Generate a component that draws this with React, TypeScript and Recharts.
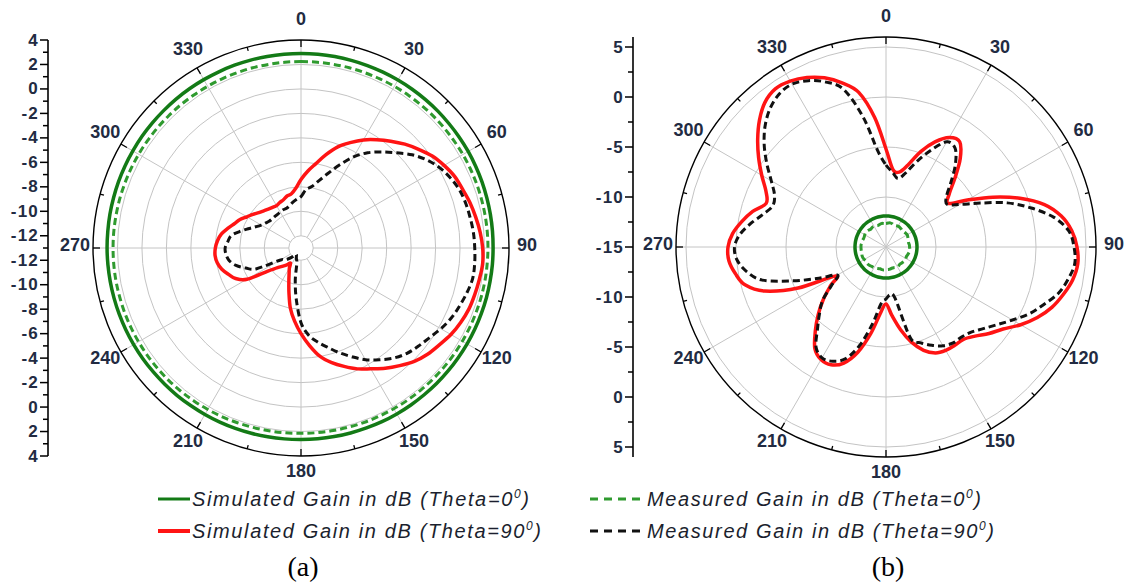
import React from "react";
import {
  RadarChart,
  Radar,
  PolarGrid,
  PolarAngleAxis,
  PolarRadiusAxis,
  ComposedChart,
  XAxis,
  YAxis,
} from "recharts";

// azimuth categories, degrees clockwise from top
const angleCategories = [
  0, 5, 10, 15, 20, 25, 30, 35, 40, 45, 50, 55, 60, 65, 70, 75, 80, 85,
  90, 95, 100, 105, 110, 115, 120, 125, 130, 135, 140, 145, 150, 155, 160, 165, 170, 175,
  180, 185, 190, 195, 200, 205, 210, 215, 220, 225, 230, 235, 240, 245, 250, 255, 260, 265,
  270, 275, 280, 285, 290, 295, 300, 305, 310, 315, 320, 325, 330, 335, 340, 345, 350, 355,
];

// ---- panel (a) gains in dB ----
const simTheta0A = [
  2.9, 2.9, 2.89, 2.88, 2.87, 2.86, 2.85, 2.84, 2.83, 2.82, 2.8, 2.79, 2.78, 2.76, 2.75, 2.73, 2.72, 2.71,
  2.7, 2.7, 2.69, 2.69, 2.68, 2.68, 2.68, 2.67, 2.67, 2.67, 2.66, 2.66, 2.66, 2.66, 2.65, 2.65, 2.65, 2.65,
  2.65, 2.66, 2.67, 2.68, 2.69, 2.7, 2.71, 2.72, 2.74, 2.75, 2.76, 2.78, 2.79, 2.8, 2.81, 2.82, 2.83, 2.84,
  2.85, 2.85, 2.86, 2.86, 2.87, 2.87, 2.87, 2.88, 2.88, 2.88, 2.89, 2.89, 2.89, 2.89, 2.9, 2.9, 2.9, 2.9,
];
const measTheta0A = [
  2.24, 2.24, 2.24, 2.25, 2.25, 2.25, 2.26, 2.26, 2.26, 2.27, 2.27, 2.27, 2.28, 2.28, 2.28, 2.28, 2.28, 2.28,
  2.28, 2.27, 2.27, 2.26, 2.25, 2.24, 2.23, 2.22, 2.21, 2.2, 2.19, 2.18, 2.17, 2.16, 2.16, 2.15, 2.15, 2.15,
  2.15, 2.16, 2.17, 2.18, 2.2, 2.22, 2.24, 2.26, 2.28, 2.3, 2.31, 2.32, 2.33, 2.34, 2.35, 2.35, 2.36, 2.36,
  2.36, 2.36, 2.35, 2.35, 2.34, 2.33, 2.32, 2.31, 2.3, 2.29, 2.28, 2.27, 2.26, 2.26, 2.25, 2.25, 2.24, 2.24,
];
const simTheta90A = [
  -7.4, -6.7, -6.0, -5.1, -4.2, -3.5, -2.8, -2.2, -1.6, -1.0, -0.45, 0.1, 0.5, 0.85, 1.05, 1.3, 1.5, 1.7,
  1.85, 1.9, 1.8, 1.7, 1.6, 1.4, 1.15, 0.8, 0.5, 0.1, -0.45, -1.0, -1.6, -2.1, -2.7, -3.3, -4.0, -5.0,
  -6.0, -7.0, -8.0, -9.2, -10.1, -10.7, -11.1, -11.5, -11.2, -10.9, -10.5, -9.7, -7.9, -7.1, -6.7, -6.3, -6.05, -5.95,
  -6.0, -6.15, -6.4, -6.8, -7.2, -7.5, -7.9, -8.2, -8.5, -8.7, -8.85, -8.95, -9.0, -8.9, -8.8, -8.6, -8.5, -8.1,
];
const measTheta90A = [
  -8.8, -8.2, -7.9, -7.3, -6.5, -5.5, -4.4, -3.5, -2.75, -2.0, -1.15, -0.45, 0.1, 0.5, 0.8, 0.95, 1.05, 1.15,
  1.2, 1.25, 1.25, 1.05, 0.8, 0.55, 0.2, -0.2, -0.5, -0.8, -1.25, -1.85, -2.45, -3.2, -3.9, -4.6, -5.2, -5.85,
  -6.9, -8.7, -10.3, -11.7, -11.95, -12.1, -12.25, -12.35, -12.25, -11.95, -11.6, -11.3, -11.0, -9.0, -8.2, -7.5, -7.05, -6.85,
  -6.8, -7.0, -7.2, -7.8, -8.4, -8.9, -9.25, -9.45, -9.6, -9.65, -9.65, -9.65, -9.6, -9.55, -9.55, -9.4, -9.2, -9.0,
];

// ---- panel (b) gains in dB ----
const simTheta0B = [
  -11.9, -11.9, -11.9, -11.9, -11.9, -11.9, -11.9, -11.9, -11.9, -11.9, -11.9, -11.9, -11.9, -11.9, -11.9, -11.9, -11.9, -11.9,
  -11.9, -11.9, -11.9, -11.9, -11.9, -11.9, -11.9, -11.9, -11.9, -11.9, -11.9, -11.9, -11.9, -11.9, -11.9, -11.9, -11.9, -11.9,
  -11.9, -11.9, -11.9, -11.9, -11.9, -11.9, -11.9, -11.9, -11.9, -11.9, -11.9, -11.9, -11.9, -11.9, -11.9, -11.9, -11.9, -11.9,
  -11.9, -11.9, -11.9, -11.9, -11.9, -11.9, -11.9, -11.9, -11.9, -11.9, -11.9, -11.9, -11.9, -11.9, -11.9, -11.9, -11.9, -11.9,
];
const measTheta0B = [
  -12.65, -12.6, -12.55, -12.6, -12.7, -12.65, -12.6, -12.6, -12.65, -12.7, -12.65, -12.6, -12.55, -12.6, -12.65, -12.7, -12.7, -12.65,
  -12.65, -12.6, -12.6, -12.65, -12.7, -12.75, -12.7, -12.65, -12.7, -12.75, -12.8, -12.75, -12.7, -12.75, -12.8, -12.8, -12.75, -12.75,
  -12.75, -12.7, -12.7, -12.75, -12.7, -12.65, -12.6, -12.6, -12.55, -12.5, -12.5, -12.55, -12.5, -12.45, -12.45, -12.5, -12.5, -12.5,
  -12.5, -12.5, -12.55, -12.55, -12.6, -12.6, -12.55, -12.5, -12.55, -12.6, -12.65, -12.6, -12.6, -12.65, -12.7, -12.65, -12.6, -12.65,
];
const simTheta90B = [
  -5.2, -7.2, -7.4, -6.5, -4.85, -3.4, -2.35, -2.15, -3.45, -5.25, -6.75, -7.4, -5.6, -3.2, -0.75, 1.4, 2.8, 3.65,
  4.1, 4.25, 3.95, 3.35, 2.65, 1.7, 0.55, -0.7, -1.55, -2.4, -2.95, -3.0, -3.05, -3.3, -4.0, -5.15, -6.6, -8.1,
  -9.3, -8.3, -6.2, -4.1, -2.65, -2.0, -2.0, -2.6, -4.0, -5.4, -6.8, -8.2, -9.2, -5.3, -2.1, -0.4, 0.3, 0.77,
  0.8, 0.4, -0.35, -1.2, -2.25, -1.75, -0.65, 0.55, 1.75, 2.9, 3.85, 4.3, 4.15, 3.7, 3.0, 2.0, 0.7, -2.0,
];
const measTheta90B = [
  -6.8, -7.5, -8.05, -7.3, -5.85, -4.3, -2.85, -2.95, -4.2, -5.8, -7.1, -7.55, -6.5, -4.6, -2.1, 0.05, 2.05, 3.35,
  3.8, 3.95, 3.5, 2.85, 1.8, 0.8, -0.4, -1.45, -2.3, -2.95, -3.25, -3.3, -3.6, -4.15, -4.8, -5.6, -9.8, -10.2,
  -9.8, -9.3, -7.2, -4.8, -3.1, -2.4, -2.2, -2.8, -4.35, -5.6, -6.75, -8.4, -9.4, -7.6, -5.1, -2.2, -0.85, -0.05,
  0.15, -0.35, -1.3, -2.3, -2.95, -2.7, -1.75, -0.45, 0.9, 2.1, 3.05, 3.65, 3.8, 3.35, 2.55, 1.3, -1.8, -5.3,
];

// grid and axis labels
const gridSpokes = [0, 30, 60, 90, 120, 150, 180, 210, 240, 270, 300, 330];
const gridDbA = [-12, -10, -8, -6, -4, -2, 0, 2];
const gridDbB = [-10, -5, 0, 5];
const sideMajorA = [4, 2, 0, -2, -4, -6, -8, -10, -12];
const sideMinorA = [3, 1, -1, -3, -5, -7, -9, -11, -13];
const sideMajorB = [5, 0, -5, -10, -15];
const sideMinorB = [2.5, -2.5, -7.5, -12.5];

const legendNames = [
  "Simulated Gain in dB (Theta=0",
  "Simulated Gain in dB (Theta=90",
  "Measured Gain in dB (Theta=0",
  "Measured Gain in dB (Theta=90",
];
const panelCaptions = ["(a)", "(b)"];

const W = 1128;
const H = 584;
const FONT = "'Liberation Sans', Arial, sans-serif";
const LABEL_INK = "#222b42";

const seriesStyle = {
  sim0: { stroke: "#137a16", width: 3.5, dash: undefined as string | undefined },
  meas0: { stroke: "#2f9a2f", width: 3, dash: "7 4" },
  sim90: { stroke: "#ff1414", width: 3.5, dash: undefined as string | undefined },
  meas90: { stroke: "#111111", width: 3, dash: "7 4" },
};

const buildRows = (s0: number[], m0: number[], s90: number[], m90: number[]) =>
  angleCategories.map((a, i) => ({ angle: a, sim0: s0[i], meas0: m0[i], sim90: s90[i], meas90: m90[i] }));

const rowsA = buildRows(simTheta0A, measTheta0A, simTheta90A, measTheta90A);
const rowsB = buildRows(simTheta0B, measTheta0B, simTheta90B, measTheta90B);

function smoothClosedPath(pts: { x: number; y: number }[]) {
  if (!pts || pts.length < 3) return "";
  const n = pts.length;
  const t = 1 / 6;
  let d = `M${pts[0].x},${pts[0].y}`;
  for (let i = 0; i < n; i++) {
    const p0 = pts[(i + n - 1) % n];
    const p1 = pts[i];
    const p2 = pts[(i + 1) % n];
    const p3 = pts[(i + 2) % n];
    d += ` C${p1.x + (p2.x - p0.x) * t},${p1.y + (p2.y - p0.y) * t} ${p2.x - (p3.x - p1.x) * t},${p2.y - (p3.y - p1.y) * t} ${p2.x},${p2.y}`;
  }
  return d + " Z";
}

const makeShape = (key: keyof typeof seriesStyle) => (props: any) => {
  const st = seriesStyle[key];
  return (
    <path
      d={smoothClosedPath(props.points)}
      fill="none"
      stroke={st.stroke}
      strokeWidth={st.width}
      strokeDasharray={st.dash}
      strokeLinejoin="round"
    />
  );
};

const makeAngleTick = (gap: number) => (props: any) => {
  const { x, y, payload } = props;
  const deg = Number(payload.value);
  if (deg % 15 !== 0) return <g />;
  const rad = (-payload.coordinate * Math.PI) / 180;
  const ux = Math.cos(rad);
  const uy = Math.sin(rad);
  const ex = x - ux * gap;
  const ey = y - uy * gap;
  const len = deg % 30 === 0 ? 7 : 4;
  return (
    <g>
      <line x1={ex} y1={ey} x2={ex - ux * len} y2={ey - uy * len} stroke="#000" strokeWidth={1.3} />
      {deg % 30 === 0 && (
        <text
          x={x}
          y={y - 3}
          textAnchor="middle"
          dominantBaseline="central"
          fontFamily={FONT}
          fontWeight="bold"
          fontSize={18}
          fill={LABEL_INK}
        >
          {deg}
        </text>
      )}
    </g>
  );
};

const makeSideTick = (centerDb: number, majors: number[]) => (props: any) => {
  const { x, y, payload } = props;
  const s = Number(payload.value);
  const label = s >= centerDb ? s : 2 * centerDb - s;
  const major = majors.includes(label);
  return (
    <g>
      <line x1={x - (major ? 8 : 5)} y1={y} x2={x} y2={y} stroke="#000" strokeWidth={1.5} />
      {major && (
        <text
          x={x - 9}
          y={y}
          textAnchor="end"
          dominantBaseline="central"
          fontFamily={FONT}
          fontWeight="bold"
          fontSize={17}
          letterSpacing={1.2}
          fill={LABEL_INK}
        >
          {label}
        </text>
      )}
    </g>
  );
};

type Panel = {
  rows: typeof rowsA;
  cx: number;
  cy: number;
  outer: number;
  centerDb: number;
  topDb: number;
  innerDb: number | null;
  gridDb: number[];
  labelGap: number;
  axisX: number;
  majors: number[];
  minors: number[];
};

const panels: Panel[] = [
  {
    rows: rowsA, cx: 301, cy: 248, outer: 208, centerDb: -13, topDb: 4, innerDb: -12,
    gridDb: gridDbA, labelGap: 18, axisX: 48, majors: sideMajorA, minors: sideMinorA,
  },
  {
    rows: rowsB, cx: 886, cy: 247, outer: 210, centerDb: -15, topDb: 6, innerDb: null,
    gridDb: gridDbB, labelGap: 18, axisX: 633, majors: sideMajorB, minors: sideMinorB,
  },
];

function PolarPanel({ p }: { p: Panel }) {
  const rOf = (v: number) => (p.outer * (v - p.centerDb)) / (p.topDb - p.centerDb);
  const inner = p.innerDb === null ? 0 : rOf(p.innerDb);
  const lowDb = p.innerDb === null ? p.centerDb : p.innerDb;
  return (
    <div style={{ position: "absolute", left: 0, top: 0 }}>
      <RadarChart
        width={W}
        height={H}
        data={p.rows}
        cx={p.cx}
        cy={p.cy}
        innerRadius={inner}
        outerRadius={p.outer}
        startAngle={90}
        endAngle={-270}
        margin={{ top: 0, right: 0, bottom: 0, left: 0 }}
      >
        <PolarGrid
          gridType="circle"
          polarAngles={gridSpokes}
          polarRadius={p.gridDb.map(rOf)}
          stroke="#c4c4c4"
          strokeWidth={1}
        />
        <PolarAngleAxis
          dataKey="angle"
          axisLineType="circle"
          axisLine={{ stroke: "#000", strokeWidth: 1.4 }}
          tickLine={false}
          tickSize={p.labelGap}
          tick={makeAngleTick(p.labelGap)}
        />
        <PolarRadiusAxis
          type="number"
          domain={[lowDb, p.topDb]}
          allowDataOverflow
          tick={false}
          axisLine={false}
        />
        {(Object.keys(seriesStyle) as (keyof typeof seriesStyle)[]).map((k) => (
          <Radar
            key={k}
            dataKey={k}
            stroke={seriesStyle[k].stroke}
            fill="none"
            fillOpacity={0}
            dot={false}
            isAnimationActive={false}
            shape={makeShape(k)}
          />
        ))}
      </RadarChart>
    </div>
  );
}

function SideAxis({ p }: { p: Panel }) {
  const upper = [...p.majors, ...p.minors];
  const lower = upper.filter((v) => v !== p.centerDb).map((v) => 2 * p.centerDb - v);
  const ticks = [...upper, ...lower].sort((a, b) => b - a);
  const axisW = 60;
  return (
    <div style={{ position: "absolute", left: p.axisX - axisW, top: 0 }}>
      <ComposedChart
        width={axisW + 10}
        height={H}
        data={[]}
        margin={{ top: p.cy - p.outer, bottom: H - (p.cy + p.outer), left: 0, right: 10 }}
      >
        <XAxis hide />
        <YAxis
          type="number"
          domain={[2 * p.centerDb - p.topDb, p.topDb]}
          allowDataOverflow
          ticks={ticks}
          interval={0}
          width={axisW}
          tickSize={0}
          tickMargin={0}
          tickLine={false}
          axisLine={{ stroke: "#000", strokeWidth: 1.6 }}
          tick={makeSideTick(p.centerDb, p.majors)}
        />
      </ComposedChart>
    </div>
  );
}

const legendLayout = [
  { x0: 158, x1: 190, tx: 192, y: 499, len: 337, key: "sim0" as const, w: 3 },
  { x0: 158, x1: 190, tx: 192, y: 531, len: 349, key: "sim90" as const, w: 4 },
  { x0: 590, x1: 644, tx: 647, y: 499, len: 334, key: "meas0" as const, w: 3 },
  { x0: 590, x1: 644, tx: 647, y: 531, len: 347, key: "meas90" as const, w: 3 },
];

function LegendAndCaptions() {
  return (
    <svg width={W} height={H} style={{ position: "absolute", left: 0, top: 0, pointerEvents: "none" }}>
      {legendLayout.map((l, i) => {
        const st = seriesStyle[l.key];
        return (
          <g key={i}>
            <line
              x1={l.x0}
              y1={l.y}
              x2={l.x1}
              y2={l.y}
              stroke={st.stroke}
              strokeWidth={l.w}
              strokeDasharray={st.dash ? "8 6" : undefined}
            />
            <text
              x={l.tx}
              y={l.y + 7}
              fontFamily={FONT}
              fontStyle="italic"
              fontSize={20}
              fill="#1b1f2e"
              textLength={l.len}
              lengthAdjust="spacing"
            >
              {legendNames[i]}
              <tspan dy={-8} fontSize={12}>0</tspan>
              <tspan dy={8}>)</tspan>
            </text>
          </g>
        );
      })}
      {panels.map((p, i) => (
        <text
          key={i}
          x={p.cx + 2}
          y={576}
          textAnchor="middle"
          fontFamily="'Liberation Serif', 'Times New Roman', serif"
          fontSize={28}
          fill="#000"
        >
          {panelCaptions[i]}
        </text>
      ))}
    </svg>
  );
}

export default function App() {
  return (
    <div style={{ position: "absolute", left: 0, top: 0, width: W, height: H, background: "#fff", overflow: "hidden" }}>
      {panels.map((p, i) => (
        <PolarPanel key={`r${i}`} p={p} />
      ))}
      {panels.map((p, i) => (
        <SideAxis key={`s${i}`} p={p} />
      ))}
      <LegendAndCaptions />
    </div>
  );
}
